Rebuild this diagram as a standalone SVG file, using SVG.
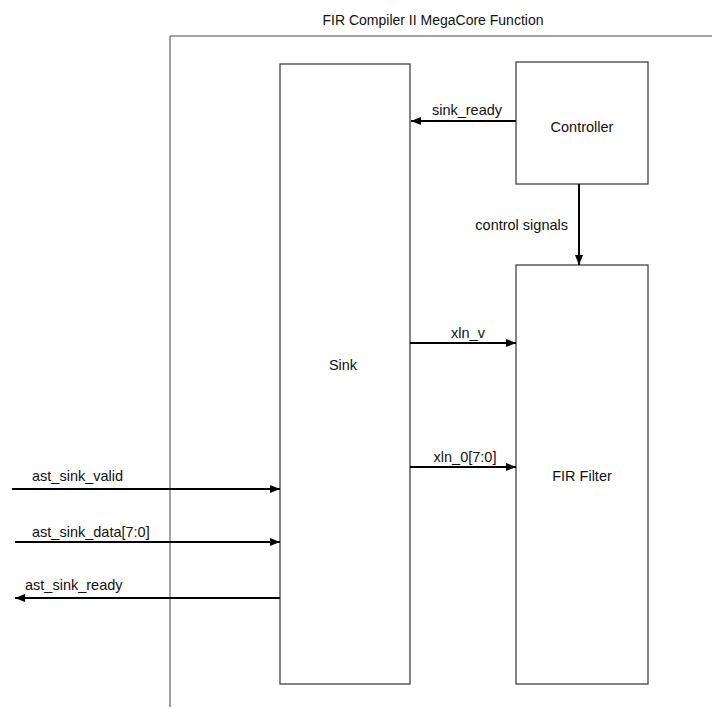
<svg xmlns="http://www.w3.org/2000/svg" width="712" height="709" viewBox="0 0 712 709">
<style>
.box{fill:#fff;stroke:#333;stroke-width:1.2}
.frame{fill:none;stroke:#444;stroke-width:1}
.wire{stroke:#000;stroke-width:2;fill:none}
text{font-family:"Liberation Sans",Arial,sans-serif;font-size:14.5px;fill:#111}
</style>
<defs>
<marker id="ah" viewBox="0 0 10 8" refX="10" refY="4" markerWidth="10" markerHeight="8" markerUnits="userSpaceOnUse" orient="auto">
<path d="M0,0 L10,4 L0,8 z" fill="#000"/>
</marker>
</defs>
<rect width="712" height="709" fill="#fff"/>
<g id="frame">
<path class="frame" d="M170,707 V36 H712"/>
<text x="433" y="25" text-anchor="middle" style="font-size:14px">FIR Compiler II MegaCore Function</text>
</g>
<g id="sink">
<rect class="box" x="280" y="64" width="130" height="620"/>
<text x="343" y="370" text-anchor="middle">Sink</text>
</g>
<g id="controller">
<rect class="box" x="516" y="62" width="132" height="122"/>
<text x="582" y="132" text-anchor="middle">Controller</text>
</g>
<g id="fir">
<rect class="box" x="516" y="265" width="132" height="419"/>
<text x="582" y="481" text-anchor="middle">FIR Filter</text>
</g>
<g id="connectors">
<line class="wire" x1="516" y1="121" x2="411" y2="121" marker-end="url(#ah)"/>
<text x="467" y="115" text-anchor="middle">sink_ready</text>
<line class="wire" x1="579" y1="184" x2="579" y2="265" marker-end="url(#ah)"/>
<text x="568" y="230" text-anchor="end">control signals</text>
<line class="wire" x1="410" y1="343" x2="516" y2="343" marker-end="url(#ah)"/>
<text x="468" y="338" text-anchor="middle">xln_v</text>
<line class="wire" x1="410" y1="467" x2="516" y2="467" marker-end="url(#ah)"/>
<text x="465" y="462" text-anchor="middle">xln_0[7:0]</text>
<line class="wire" x1="12" y1="489" x2="280" y2="489" marker-end="url(#ah)"/>
<text x="32" y="481">ast_sink_valid</text>
<line class="wire" x1="15" y1="542" x2="280" y2="542" marker-end="url(#ah)"/>
<text x="32" y="537">ast_sink_data[7:0]</text>
<line class="wire" x1="280" y1="598" x2="15" y2="598" marker-end="url(#ah)"/>
<text x="25" y="590">ast_sink_ready</text>
</g>
</svg>
